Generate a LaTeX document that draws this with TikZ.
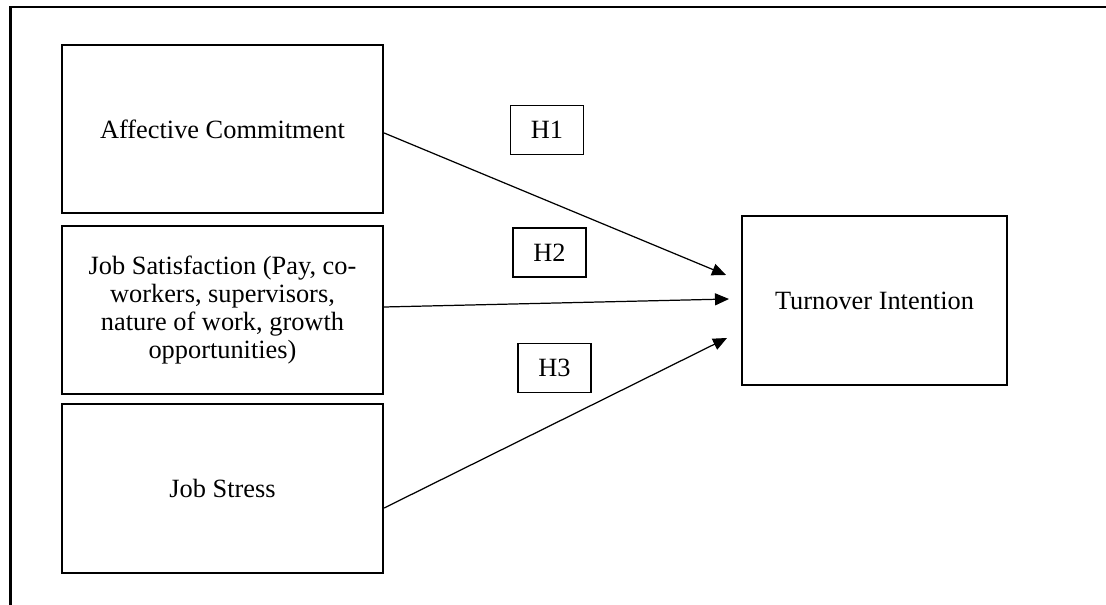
\documentclass[tikz,border=0pt]{standalone}
\usepackage{fontspec}
\setmainfont{Liberation Serif}
\usetikzlibrary{arrows.meta}

\begin{document}
\begin{tikzpicture}[
    varbox/.style={draw=black, line width=1.3pt,
                   minimum width=6.42cm, minimum height=3.36cm,
                   align=center, inner sep=0pt,
                   font=\fontsize{15}{16}\selectfont},
    outbox/.style={varbox, minimum width=5.3cm, minimum height=3.38cm},
    hypbox/.style={draw=black, line width=1.1pt,
                   minimum width=1.46cm, minimum height=0.98cm,
                   inner sep=0pt, font=\fontsize{15}{16}\selectfont},
    link/.style={draw=black, line width=0.7pt,
                 -{Triangle[length=0.28cm, width=0.24cm]}},
    frameline/.style={draw=black, line width=1.2pt}
  ]
    \useasboundingbox (0,0) rectangle (22.12,12.1);
    \def\cx{4.45} \def\hx{10.98}

    % outer frame, only top and left edges are in view
    \draw[frameline] (0.21,0) -- (0.21,11.96) -- (22.2,11.96);

    \node[varbox] (aff) at (\cx,9.52) {Affective Commitment};
    \node[varbox] (sat) at (\cx,5.90)
      {Job Satisfaction (Pay, co-\\workers, supervisors,\\nature of work, growth\\opportunities)};
    \node[varbox, minimum height=3.38cm] (str) at (\cx,2.33) {Job Stress};
    \node[outbox] (turn) at (17.49,6.09) {Turnover Intention};

    \node[hypbox] (h1) at (10.94,9.50) {H1};
    \node[hypbox] (h2) at (10.99,7.05) {H2};
    \node[hypbox] (h3) at (11.09,4.74) {H3};

    \coordinate (e1) at (14.52,6.60);
    \coordinate (e2) at (14.58,6.12);
    \coordinate (e3) at (14.54,5.34);

    \draw[link] ([yshift=-0.08cm]aff.east) -- (e1);
    \draw[link] ([yshift=0.06cm]sat.east) -- (e2);
    \draw[link] ([yshift=-0.39cm]str.east) -- (e3);
  \end{tikzpicture}
\end{document}
